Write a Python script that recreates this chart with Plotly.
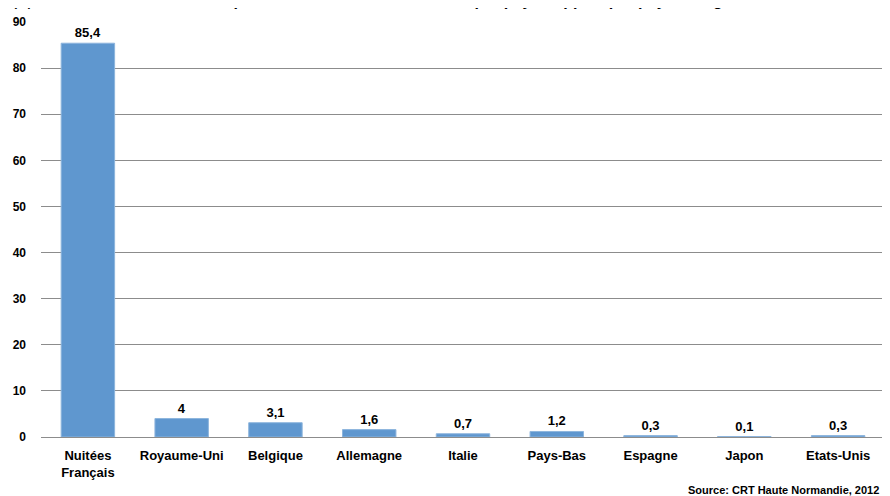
import plotly.graph_objects as go

categories = ["Nuitées<br>Français", "Royaume-Uni", "Belgique", "Allemagne", "Italie",
              "Pays-Bas", "Espagne", "Japon", "Etats-Unis"]
values = [85.4, 4, 3.1, 1.6, 0.7, 1.2, 0.3, 0.1, 0.3]
labels = ["85,4", "4", "3,1", "1,6", "0,7", "1,2", "0,3", "0,1", "0,3"]
y_ticks = [0, 10, 20, 30, 40, 50, 60, 70, 80, 90]

FONT = "Liberation Sans Narrow, Arial Narrow, Liberation Sans, Arial, sans-serif"

fig = go.Figure(go.Bar(
    x=categories, y=values, text=labels, textposition="outside",
    textfont=dict(family=FONT, size=13, color="#000000"),
    marker=dict(color="#5f97cf", line=dict(color="#8db5dd", width=1)),
    width=0.57, cliponaxis=False,
))

fig.update_layout(
    width=882, height=488,
    margin=dict(l=33, r=5, t=14, b=59),
    paper_bgcolor="white", plot_bgcolor="white",
    font=dict(family=FONT, size=13, color="#000000", weight="bold"),
    showlegend=False,
    xaxis=dict(showline=False, ticks="", automargin=False,
               tickfont=dict(family=FONT, size=13, weight="bold")),
    yaxis=dict(range=[0, 90], tickvals=y_ticks, showgrid=True, gridcolor="#8c8c8c",
               gridwidth=1, zeroline=True, zerolinecolor="#8c8c8c", zerolinewidth=1,
               tickfont=dict(family=FONT, size=12, weight="bold"), ticks="", ticklen=0,
               showline=False, automargin=False),
    annotations=[
        dict(text="Répartition des nuitées hôtelières par pays : apport par pays d'origine",
             xref="paper", yref="paper", x=0.52, y=1, xanchor="center", yanchor="bottom",
             yshift=11, showarrow=False, font=dict(family=FONT, size=16, weight="bold")),
        dict(text="(%)", xref="paper", yref="paper", x=-0.035, y=1, xanchor="left",
             yanchor="bottom", yshift=11, showarrow=False, font=dict(family=FONT, size=12, weight="bold")),
        dict(text="Source: CRT Haute Normandie, 2012", xref="paper", yref="paper",
             x=1, y=0, xanchor="right", yanchor="top", yshift=-45, xshift=-4, showarrow=False,
             font=dict(family=FONT, size=11, weight="bold")),
    ],
)
fig.update_xaxes(ticklabelstandoff=9)
fig.update_yaxes(ticklabelstandoff=14)

fig.write_html("out.html")
